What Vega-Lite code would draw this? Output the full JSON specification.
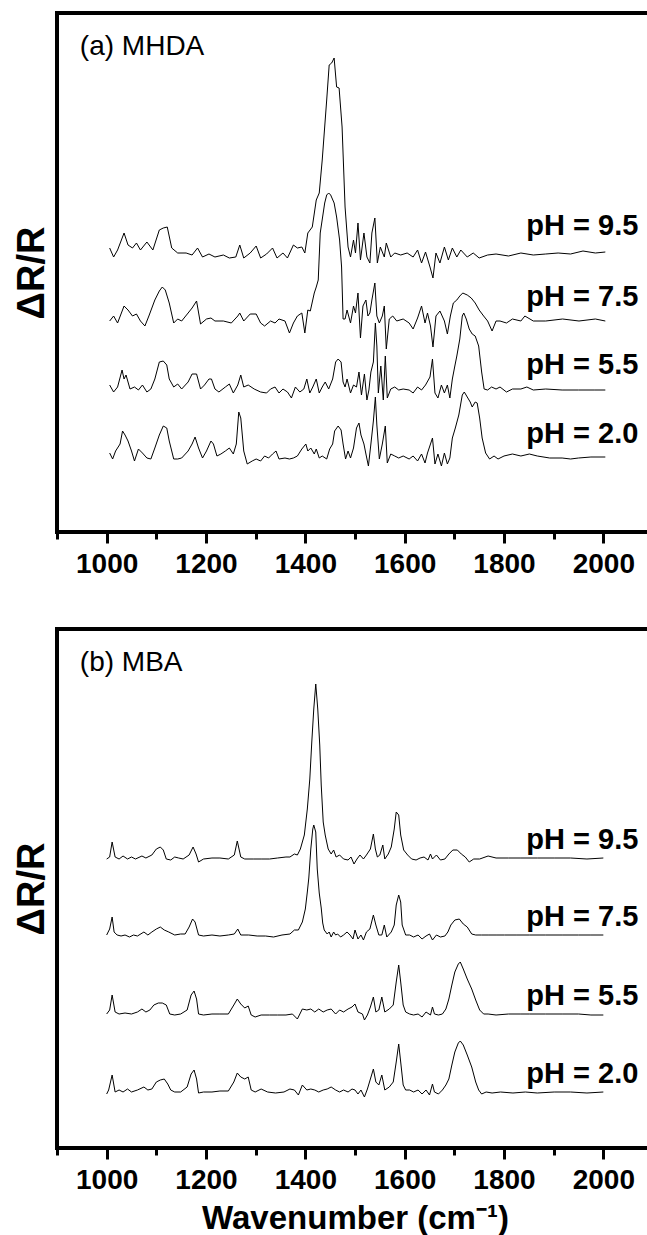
{
  "$schema": "https://vega.github.io/schema/vega-lite/v6.json",
  "padding": {"left": 11, "top": 11, "right": 0, "bottom": 0},
  "background": "white",
  "spacing": 47,
  "config": {
    "view": {"stroke": "black", "strokeWidth": 4},
    "font": "Liberation Sans",
    "axisX": {
      "values": [1000, 1100, 1200, 1300, 1400, 1500, 1600, 1700, 1800, 1900, 2000],
      "labelExpr": "datum.value % 200 == 0 ? datum.label : ''",
      "tickSize": {"condition": {"test": "datum.value % 200 == 0", "value": 11}, "value": 7},
      "tickWidth": 3, "tickColor": "black", "domain": false, "grid": false,
      "labelFont": "Liberation Sans", "labelFontSize": 28, "labelFontWeight": "bold", "labelColor": "black",
      "labelPadding": 7, "labelOverlap": false, "labelFlush": false, "format": "d",
      "titleFont": "Liberation Sans", "titleFontSize": 33, "titleFontWeight": "bold", "titleColor": "black", "titlePadding": 8
    },
    "axisY": {
      "ticks": false, "labels": false, "domain": false, "grid": false,
      "titleFont": "Liberation Sans", "titleFontSize": 38, "titleFontWeight": "bold", "titleColor": "black", "titlePadding": 6
    }
  },
  "datasets": {
    "a": [
      {"s":"9.5","x":1006,"y":284},{"s":"9.5","x":1014,"y":275},{"s":"9.5","x":1022,"y":282},{"s":"9.5","x":1035,"y":299},{"s":"9.5","x":1043,"y":287},{"s":"9.5","x":1052,"y":284},{"s":"9.5","x":1060,"y":289},{"s":"9.5","x":1068,"y":282},{"s":"9.5","x":1081,"y":290},{"s":"9.5","x":1093,"y":282},{"s":"9.5","x":1106,"y":302},{"s":"9.5","x":1114,"y":304},{"s":"9.5","x":1122,"y":305},{"s":"9.5","x":1131,"y":284},{"s":"9.5","x":1143,"y":279},{"s":"9.5","x":1160,"y":279},{"s":"9.5","x":1172,"y":277},{"s":"9.5","x":1183,"y":284},{"s":"9.5","x":1193,"y":275},{"s":"9.5","x":1206,"y":278},{"s":"9.5","x":1218,"y":275},{"s":"9.5","x":1235,"y":277},{"s":"9.5","x":1247,"y":274},{"s":"9.5","x":1260,"y":275},{"s":"9.5","x":1268,"y":287},{"s":"9.5","x":1276,"y":274},{"s":"9.5","x":1289,"y":279},{"s":"9.5","x":1301,"y":286},{"s":"9.5","x":1310,"y":274},{"s":"9.5","x":1322,"y":278},{"s":"9.5","x":1334,"y":284},{"s":"9.5","x":1343,"y":274},{"s":"9.5","x":1355,"y":279},{"s":"9.5","x":1364,"y":274},{"s":"9.5","x":1376,"y":287},{"s":"9.5","x":1384,"y":284},{"s":"9.5","x":1393,"y":285},{"s":"9.5","x":1399,"y":279},{"s":"9.5","x":1405,"y":299},{"s":"9.5","x":1414,"y":305},{"s":"9.5","x":1422,"y":332},{"s":"9.5","x":1428,"y":339},{"s":"9.5","x":1434,"y":372},{"s":"9.5","x":1443,"y":432},{"s":"9.5","x":1448,"y":467},{"s":"9.5","x":1453,"y":469},{"s":"9.5","x":1458,"y":474},{"s":"9.5","x":1463,"y":445},{"s":"9.5","x":1468,"y":444},{"s":"9.5","x":1474,"y":405},{"s":"9.5","x":1480,"y":325},{"s":"9.5","x":1486,"y":285},{"s":"9.5","x":1491,"y":275},{"s":"9.5","x":1497,"y":292},{"s":"9.5","x":1501,"y":279},{"s":"9.5","x":1506,"y":309},{"s":"9.5","x":1511,"y":272},{"s":"9.5","x":1518,"y":299},{"s":"9.5","x":1524,"y":275},{"s":"9.5","x":1530,"y":269},{"s":"9.5","x":1534,"y":299},{"s":"9.5","x":1540,"y":314},{"s":"9.5","x":1545,"y":269},{"s":"9.5","x":1551,"y":285},{"s":"9.5","x":1559,"y":275},{"s":"9.5","x":1563,"y":289},{"s":"9.5","x":1572,"y":275},{"s":"9.5","x":1580,"y":279},{"s":"9.5","x":1592,"y":277},{"s":"9.5","x":1605,"y":279},{"s":"9.5","x":1617,"y":275},{"s":"9.5","x":1626,"y":282},{"s":"9.5","x":1634,"y":269},{"s":"9.5","x":1642,"y":280},{"s":"9.5","x":1651,"y":265},{"s":"9.5","x":1657,"y":254},{"s":"9.5","x":1663,"y":279},{"s":"9.5","x":1671,"y":269},{"s":"9.5","x":1680,"y":285},{"s":"9.5","x":1688,"y":272},{"s":"9.5","x":1696,"y":284},{"s":"9.5","x":1705,"y":275},{"s":"9.5","x":1713,"y":282},{"s":"9.5","x":1726,"y":275},{"s":"9.5","x":1738,"y":279},{"s":"9.5","x":1750,"y":274},{"s":"9.5","x":1767,"y":277},{"s":"9.5","x":1784,"y":278},{"s":"9.5","x":1809,"y":276},{"s":"9.5","x":1834,"y":279},{"s":"9.5","x":1859,"y":277},{"s":"9.5","x":1884,"y":278},{"s":"9.5","x":1909,"y":279},{"s":"9.5","x":1934,"y":278},{"s":"9.5","x":1959,"y":281},{"s":"9.5","x":1984,"y":279},{"s":"9.5","x":2004,"y":280},
      {"s":"7.5","x":1006,"y":211},{"s":"7.5","x":1014,"y":216},{"s":"7.5","x":1022,"y":209},{"s":"7.5","x":1035,"y":226},{"s":"7.5","x":1043,"y":222},{"s":"7.5","x":1052,"y":216},{"s":"7.5","x":1060,"y":218},{"s":"7.5","x":1068,"y":211},{"s":"7.5","x":1077,"y":206},{"s":"7.5","x":1085,"y":216},{"s":"7.5","x":1097,"y":232},{"s":"7.5","x":1106,"y":241},{"s":"7.5","x":1112,"y":245},{"s":"7.5","x":1118,"y":242},{"s":"7.5","x":1126,"y":229},{"s":"7.5","x":1135,"y":209},{"s":"7.5","x":1143,"y":213},{"s":"7.5","x":1151,"y":211},{"s":"7.5","x":1164,"y":219},{"s":"7.5","x":1172,"y":224},{"s":"7.5","x":1181,"y":231},{"s":"7.5","x":1189,"y":208},{"s":"7.5","x":1201,"y":213},{"s":"7.5","x":1210,"y":214},{"s":"7.5","x":1218,"y":211},{"s":"7.5","x":1235,"y":211},{"s":"7.5","x":1251,"y":209},{"s":"7.5","x":1264,"y":216},{"s":"7.5","x":1268,"y":219},{"s":"7.5","x":1276,"y":211},{"s":"7.5","x":1289,"y":218},{"s":"7.5","x":1301,"y":218},{"s":"7.5","x":1310,"y":209},{"s":"7.5","x":1318,"y":206},{"s":"7.5","x":1330,"y":211},{"s":"7.5","x":1339,"y":209},{"s":"7.5","x":1347,"y":213},{"s":"7.5","x":1359,"y":211},{"s":"7.5","x":1368,"y":199},{"s":"7.5","x":1376,"y":209},{"s":"7.5","x":1384,"y":216},{"s":"7.5","x":1393,"y":219},{"s":"7.5","x":1399,"y":199},{"s":"7.5","x":1405,"y":222},{"s":"7.5","x":1410,"y":221},{"s":"7.5","x":1418,"y":239},{"s":"7.5","x":1422,"y":245},{"s":"7.5","x":1426,"y":252},{"s":"7.5","x":1430,"y":299},{"s":"7.5","x":1439,"y":329},{"s":"7.5","x":1443,"y":337},{"s":"7.5","x":1447,"y":339},{"s":"7.5","x":1451,"y":337},{"s":"7.5","x":1458,"y":329},{"s":"7.5","x":1463,"y":315},{"s":"7.5","x":1469,"y":292},{"s":"7.5","x":1473,"y":265},{"s":"7.5","x":1476,"y":213},{"s":"7.5","x":1480,"y":213},{"s":"7.5","x":1484,"y":222},{"s":"7.5","x":1491,"y":209},{"s":"7.5","x":1497,"y":226},{"s":"7.5","x":1501,"y":219},{"s":"7.5","x":1506,"y":239},{"s":"7.5","x":1511,"y":194},{"s":"7.5","x":1516,"y":226},{"s":"7.5","x":1522,"y":232},{"s":"7.5","x":1526,"y":216},{"s":"7.5","x":1530,"y":219},{"s":"7.5","x":1534,"y":232},{"s":"7.5","x":1540,"y":249},{"s":"7.5","x":1544,"y":216},{"s":"7.5","x":1549,"y":209},{"s":"7.5","x":1555,"y":216},{"s":"7.5","x":1559,"y":226},{"s":"7.5","x":1563,"y":183},{"s":"7.5","x":1569,"y":213},{"s":"7.5","x":1576,"y":216},{"s":"7.5","x":1584,"y":211},{"s":"7.5","x":1597,"y":213},{"s":"7.5","x":1609,"y":209},{"s":"7.5","x":1617,"y":203},{"s":"7.5","x":1626,"y":214},{"s":"7.5","x":1634,"y":226},{"s":"7.5","x":1641,"y":209},{"s":"7.5","x":1646,"y":219},{"s":"7.5","x":1652,"y":206},{"s":"7.5","x":1657,"y":185},{"s":"7.5","x":1663,"y":216},{"s":"7.5","x":1671,"y":221},{"s":"7.5","x":1680,"y":211},{"s":"7.5","x":1686,"y":198},{"s":"7.5","x":1692,"y":216},{"s":"7.5","x":1698,"y":229},{"s":"7.5","x":1705,"y":232},{"s":"7.5","x":1711,"y":236},{"s":"7.5","x":1717,"y":239},{"s":"7.5","x":1726,"y":237},{"s":"7.5","x":1734,"y":234},{"s":"7.5","x":1742,"y":229},{"s":"7.5","x":1750,"y":222},{"s":"7.5","x":1759,"y":216},{"s":"7.5","x":1767,"y":211},{"s":"7.5","x":1776,"y":201},{"s":"7.5","x":1784,"y":211},{"s":"7.5","x":1792,"y":211},{"s":"7.5","x":1805,"y":209},{"s":"7.5","x":1817,"y":213},{"s":"7.5","x":1834,"y":211},{"s":"7.5","x":1842,"y":216},{"s":"7.5","x":1859,"y":211},{"s":"7.5","x":1884,"y":211},{"s":"7.5","x":1918,"y":213},{"s":"7.5","x":1951,"y":211},{"s":"7.5","x":1984,"y":213},{"s":"7.5","x":2004,"y":211},
      {"s":"5.5","x":1006,"y":147},{"s":"5.5","x":1014,"y":140},{"s":"5.5","x":1022,"y":145},{"s":"5.5","x":1031,"y":162},{"s":"5.5","x":1035,"y":153},{"s":"5.5","x":1039,"y":157},{"s":"5.5","x":1047,"y":143},{"s":"5.5","x":1056,"y":145},{"s":"5.5","x":1064,"y":142},{"s":"5.5","x":1072,"y":147},{"s":"5.5","x":1081,"y":140},{"s":"5.5","x":1089,"y":143},{"s":"5.5","x":1097,"y":153},{"s":"5.5","x":1106,"y":170},{"s":"5.5","x":1114,"y":171},{"s":"5.5","x":1121,"y":167},{"s":"5.5","x":1126,"y":153},{"s":"5.5","x":1135,"y":145},{"s":"5.5","x":1143,"y":148},{"s":"5.5","x":1151,"y":143},{"s":"5.5","x":1164,"y":150},{"s":"5.5","x":1172,"y":158},{"s":"5.5","x":1181,"y":158},{"s":"5.5","x":1189,"y":143},{"s":"5.5","x":1197,"y":147},{"s":"5.5","x":1206,"y":153},{"s":"5.5","x":1211,"y":153},{"s":"5.5","x":1218,"y":143},{"s":"5.5","x":1226,"y":140},{"s":"5.5","x":1239,"y":145},{"s":"5.5","x":1247,"y":148},{"s":"5.5","x":1255,"y":139},{"s":"5.5","x":1264,"y":147},{"s":"5.5","x":1270,"y":157},{"s":"5.5","x":1276,"y":145},{"s":"5.5","x":1285,"y":147},{"s":"5.5","x":1297,"y":143},{"s":"5.5","x":1310,"y":140},{"s":"5.5","x":1322,"y":139},{"s":"5.5","x":1330,"y":143},{"s":"5.5","x":1339,"y":145},{"s":"5.5","x":1347,"y":139},{"s":"5.5","x":1355,"y":143},{"s":"5.5","x":1364,"y":140},{"s":"5.5","x":1372,"y":134},{"s":"5.5","x":1380,"y":145},{"s":"5.5","x":1389,"y":140},{"s":"5.5","x":1397,"y":143},{"s":"5.5","x":1403,"y":153},{"s":"5.5","x":1409,"y":139},{"s":"5.5","x":1415,"y":145},{"s":"5.5","x":1422,"y":153},{"s":"5.5","x":1428,"y":139},{"s":"5.5","x":1434,"y":145},{"s":"5.5","x":1440,"y":150},{"s":"5.5","x":1447,"y":143},{"s":"5.5","x":1455,"y":153},{"s":"5.5","x":1461,"y":170},{"s":"5.5","x":1466,"y":173},{"s":"5.5","x":1472,"y":170},{"s":"5.5","x":1476,"y":150},{"s":"5.5","x":1480,"y":145},{"s":"5.5","x":1484,"y":153},{"s":"5.5","x":1491,"y":139},{"s":"5.5","x":1497,"y":147},{"s":"5.5","x":1503,"y":145},{"s":"5.5","x":1508,"y":160},{"s":"5.5","x":1513,"y":137},{"s":"5.5","x":1519,"y":158},{"s":"5.5","x":1524,"y":132},{"s":"5.5","x":1528,"y":142},{"s":"5.5","x":1532,"y":160},{"s":"5.5","x":1537,"y":170},{"s":"5.5","x":1541,"y":209},{"s":"5.5","x":1544,"y":186},{"s":"5.5","x":1547,"y":139},{"s":"5.5","x":1552,"y":166},{"s":"5.5","x":1557,"y":132},{"s":"5.5","x":1561,"y":176},{"s":"5.5","x":1565,"y":134},{"s":"5.5","x":1572,"y":143},{"s":"5.5","x":1580,"y":145},{"s":"5.5","x":1588,"y":142},{"s":"5.5","x":1597,"y":143},{"s":"5.5","x":1609,"y":142},{"s":"5.5","x":1617,"y":139},{"s":"5.5","x":1626,"y":145},{"s":"5.5","x":1634,"y":142},{"s":"5.5","x":1642,"y":147},{"s":"5.5","x":1651,"y":155},{"s":"5.5","x":1656,"y":173},{"s":"5.5","x":1661,"y":139},{"s":"5.5","x":1667,"y":134},{"s":"5.5","x":1674,"y":147},{"s":"5.5","x":1680,"y":139},{"s":"5.5","x":1686,"y":147},{"s":"5.5","x":1691,"y":134},{"s":"5.5","x":1696,"y":153},{"s":"5.5","x":1701,"y":166},{"s":"5.5","x":1705,"y":176},{"s":"5.5","x":1711,"y":193},{"s":"5.5","x":1716,"y":216},{"s":"5.5","x":1719,"y":219},{"s":"5.5","x":1724,"y":213},{"s":"5.5","x":1730,"y":203},{"s":"5.5","x":1736,"y":198},{"s":"5.5","x":1742,"y":196},{"s":"5.5","x":1749,"y":186},{"s":"5.5","x":1755,"y":160},{"s":"5.5","x":1760,"y":143},{"s":"5.5","x":1767,"y":142},{"s":"5.5","x":1775,"y":145},{"s":"5.5","x":1784,"y":143},{"s":"5.5","x":1792,"y":145},{"s":"5.5","x":1805,"y":140},{"s":"5.5","x":1817,"y":143},{"s":"5.5","x":1834,"y":143},{"s":"5.5","x":1846,"y":145},{"s":"5.5","x":1859,"y":142},{"s":"5.5","x":1884,"y":143},{"s":"5.5","x":1917,"y":142},{"s":"5.5","x":1950,"y":142},{"s":"5.5","x":1983,"y":142},{"s":"5.5","x":2004,"y":142},
      {"s":"2.0","x":1006,"y":79},{"s":"2.0","x":1012,"y":73},{"s":"2.0","x":1018,"y":81},{"s":"2.0","x":1027,"y":88},{"s":"2.0","x":1032,"y":101},{"s":"2.0","x":1037,"y":97},{"s":"2.0","x":1043,"y":91},{"s":"2.0","x":1050,"y":81},{"s":"2.0","x":1056,"y":71},{"s":"2.0","x":1064,"y":83},{"s":"2.0","x":1072,"y":79},{"s":"2.0","x":1081,"y":74},{"s":"2.0","x":1089,"y":73},{"s":"2.0","x":1097,"y":84},{"s":"2.0","x":1106,"y":97},{"s":"2.0","x":1114,"y":106},{"s":"2.0","x":1121,"y":104},{"s":"2.0","x":1126,"y":91},{"s":"2.0","x":1135,"y":73},{"s":"2.0","x":1143,"y":73},{"s":"2.0","x":1151,"y":74},{"s":"2.0","x":1164,"y":81},{"s":"2.0","x":1172,"y":88},{"s":"2.0","x":1178,"y":95},{"s":"2.0","x":1185,"y":84},{"s":"2.0","x":1193,"y":74},{"s":"2.0","x":1201,"y":81},{"s":"2.0","x":1210,"y":91},{"s":"2.0","x":1215,"y":88},{"s":"2.0","x":1222,"y":76},{"s":"2.0","x":1230,"y":78},{"s":"2.0","x":1239,"y":81},{"s":"2.0","x":1247,"y":84},{"s":"2.0","x":1255,"y":78},{"s":"2.0","x":1261,"y":88},{"s":"2.0","x":1266,"y":120},{"s":"2.0","x":1270,"y":114},{"s":"2.0","x":1276,"y":81},{"s":"2.0","x":1283,"y":68},{"s":"2.0","x":1293,"y":71},{"s":"2.0","x":1301,"y":73},{"s":"2.0","x":1310,"y":71},{"s":"2.0","x":1318,"y":76},{"s":"2.0","x":1326,"y":74},{"s":"2.0","x":1334,"y":78},{"s":"2.0","x":1341,"y":81},{"s":"2.0","x":1347,"y":73},{"s":"2.0","x":1359,"y":74},{"s":"2.0","x":1368,"y":73},{"s":"2.0","x":1376,"y":74},{"s":"2.0","x":1384,"y":76},{"s":"2.0","x":1393,"y":83},{"s":"2.0","x":1401,"y":88},{"s":"2.0","x":1405,"y":81},{"s":"2.0","x":1411,"y":84},{"s":"2.0","x":1418,"y":78},{"s":"2.0","x":1422,"y":83},{"s":"2.0","x":1428,"y":74},{"s":"2.0","x":1434,"y":76},{"s":"2.0","x":1443,"y":73},{"s":"2.0","x":1449,"y":83},{"s":"2.0","x":1455,"y":88},{"s":"2.0","x":1459,"y":101},{"s":"2.0","x":1466,"y":106},{"s":"2.0","x":1472,"y":102},{"s":"2.0","x":1476,"y":88},{"s":"2.0","x":1481,"y":73},{"s":"2.0","x":1486,"y":81},{"s":"2.0","x":1491,"y":74},{"s":"2.0","x":1497,"y":84},{"s":"2.0","x":1503,"y":104},{"s":"2.0","x":1508,"y":109},{"s":"2.0","x":1512,"y":97},{"s":"2.0","x":1518,"y":88},{"s":"2.0","x":1522,"y":78},{"s":"2.0","x":1527,"y":66},{"s":"2.0","x":1532,"y":88},{"s":"2.0","x":1537,"y":111},{"s":"2.0","x":1541,"y":135},{"s":"2.0","x":1544,"y":107},{"s":"2.0","x":1549,"y":73},{"s":"2.0","x":1555,"y":88},{"s":"2.0","x":1561,"y":106},{"s":"2.0","x":1565,"y":69},{"s":"2.0","x":1572,"y":78},{"s":"2.0","x":1580,"y":76},{"s":"2.0","x":1588,"y":74},{"s":"2.0","x":1597,"y":76},{"s":"2.0","x":1609,"y":73},{"s":"2.0","x":1617,"y":76},{"s":"2.0","x":1626,"y":71},{"s":"2.0","x":1634,"y":78},{"s":"2.0","x":1641,"y":69},{"s":"2.0","x":1646,"y":79},{"s":"2.0","x":1652,"y":88},{"s":"2.0","x":1656,"y":94},{"s":"2.0","x":1661,"y":68},{"s":"2.0","x":1667,"y":78},{"s":"2.0","x":1674,"y":66},{"s":"2.0","x":1680,"y":79},{"s":"2.0","x":1686,"y":68},{"s":"2.0","x":1691,"y":74},{"s":"2.0","x":1696,"y":94},{"s":"2.0","x":1702,"y":104},{"s":"2.0","x":1709,"y":117},{"s":"2.0","x":1716,"y":137},{"s":"2.0","x":1720,"y":140},{"s":"2.0","x":1726,"y":135},{"s":"2.0","x":1732,"y":130},{"s":"2.0","x":1736,"y":125},{"s":"2.0","x":1742,"y":130},{"s":"2.0","x":1746,"y":129},{"s":"2.0","x":1751,"y":114},{"s":"2.0","x":1756,"y":94},{"s":"2.0","x":1763,"y":79},{"s":"2.0","x":1771,"y":73},{"s":"2.0","x":1780,"y":76},{"s":"2.0","x":1788,"y":73},{"s":"2.0","x":1800,"y":76},{"s":"2.0","x":1817,"y":78},{"s":"2.0","x":1834,"y":76},{"s":"2.0","x":1851,"y":78},{"s":"2.0","x":1867,"y":76},{"s":"2.0","x":1892,"y":74},{"s":"2.0","x":1917,"y":74},{"s":"2.0","x":1934,"y":73},{"s":"2.0","x":1950,"y":74},{"s":"2.0","x":1975,"y":75},{"s":"2.0","x":2004,"y":75}
    ],
    "b": [
      {"s":"9.5","x":1000,"y":289},{"s":"9.5","x":1006,"y":291},{"s":"9.5","x":1011,"y":306},{"s":"9.5","x":1017,"y":291},{"s":"9.5","x":1025,"y":289},{"s":"9.5","x":1033,"y":292},{"s":"9.5","x":1042,"y":289},{"s":"9.5","x":1050,"y":291},{"s":"9.5","x":1058,"y":289},{"s":"9.5","x":1071,"y":292},{"s":"9.5","x":1079,"y":290},{"s":"9.5","x":1091,"y":293},{"s":"9.5","x":1100,"y":299},{"s":"9.5","x":1108,"y":301},{"s":"9.5","x":1114,"y":298},{"s":"9.5","x":1120,"y":289},{"s":"9.5","x":1129,"y":288},{"s":"9.5","x":1137,"y":291},{"s":"9.5","x":1145,"y":290},{"s":"9.5","x":1154,"y":289},{"s":"9.5","x":1166,"y":293},{"s":"9.5","x":1174,"y":301},{"s":"9.5","x":1180,"y":294},{"s":"9.5","x":1185,"y":286},{"s":"9.5","x":1195,"y":289},{"s":"9.5","x":1212,"y":290},{"s":"9.5","x":1228,"y":290},{"s":"9.5","x":1245,"y":289},{"s":"9.5","x":1257,"y":293},{"s":"9.5","x":1263,"y":307},{"s":"9.5","x":1270,"y":291},{"s":"9.5","x":1278,"y":289},{"s":"9.5","x":1295,"y":289},{"s":"9.5","x":1311,"y":289},{"s":"9.5","x":1328,"y":289},{"s":"9.5","x":1344,"y":290},{"s":"9.5","x":1361,"y":291},{"s":"9.5","x":1369,"y":291},{"s":"9.5","x":1378,"y":294},{"s":"9.5","x":1384,"y":293},{"s":"9.5","x":1390,"y":299},{"s":"9.5","x":1398,"y":313},{"s":"9.5","x":1404,"y":339},{"s":"9.5","x":1409,"y":369},{"s":"9.5","x":1413,"y":406},{"s":"9.5","x":1417,"y":439},{"s":"9.5","x":1421,"y":464},{"s":"9.5","x":1425,"y":439},{"s":"9.5","x":1429,"y":403},{"s":"9.5","x":1432,"y":363},{"s":"9.5","x":1436,"y":326},{"s":"9.5","x":1440,"y":313},{"s":"9.5","x":1446,"y":299},{"s":"9.5","x":1452,"y":294},{"s":"9.5","x":1457,"y":298},{"s":"9.5","x":1462,"y":291},{"s":"9.5","x":1469,"y":293},{"s":"9.5","x":1477,"y":289},{"s":"9.5","x":1486,"y":288},{"s":"9.5","x":1492,"y":291},{"s":"9.5","x":1498,"y":284},{"s":"9.5","x":1504,"y":289},{"s":"9.5","x":1510,"y":293},{"s":"9.5","x":1517,"y":289},{"s":"9.5","x":1523,"y":293},{"s":"9.5","x":1531,"y":299},{"s":"9.5","x":1537,"y":314},{"s":"9.5","x":1541,"y":299},{"s":"9.5","x":1545,"y":291},{"s":"9.5","x":1550,"y":293},{"s":"9.5","x":1556,"y":303},{"s":"9.5","x":1560,"y":289},{"s":"9.5","x":1567,"y":294},{"s":"9.5","x":1573,"y":301},{"s":"9.5","x":1579,"y":319},{"s":"9.5","x":1583,"y":336},{"s":"9.5","x":1588,"y":333},{"s":"9.5","x":1592,"y":313},{"s":"9.5","x":1598,"y":298},{"s":"9.5","x":1606,"y":293},{"s":"9.5","x":1614,"y":289},{"s":"9.5","x":1623,"y":288},{"s":"9.5","x":1631,"y":290},{"s":"9.5","x":1639,"y":291},{"s":"9.5","x":1647,"y":288},{"s":"9.5","x":1652,"y":294},{"s":"9.5","x":1656,"y":289},{"s":"9.5","x":1664,"y":293},{"s":"9.5","x":1672,"y":288},{"s":"9.5","x":1681,"y":289},{"s":"9.5","x":1689,"y":294},{"s":"9.5","x":1697,"y":298},{"s":"9.5","x":1706,"y":298},{"s":"9.5","x":1714,"y":294},{"s":"9.5","x":1722,"y":291},{"s":"9.5","x":1730,"y":286},{"s":"9.5","x":1739,"y":289},{"s":"9.5","x":1751,"y":289},{"s":"9.5","x":1768,"y":292},{"s":"9.5","x":1784,"y":290},{"s":"9.5","x":1809,"y":290},{"s":"9.5","x":1834,"y":290},{"s":"9.5","x":1867,"y":290},{"s":"9.5","x":1901,"y":290},{"s":"9.5","x":1934,"y":290},{"s":"9.5","x":1967,"y":289},{"s":"9.5","x":2000,"y":290},
      {"s":"7.5","x":1000,"y":213},{"s":"7.5","x":1006,"y":219},{"s":"7.5","x":1011,"y":231},{"s":"7.5","x":1015,"y":216},{"s":"7.5","x":1021,"y":213},{"s":"7.5","x":1029,"y":212},{"s":"7.5","x":1037,"y":213},{"s":"7.5","x":1046,"y":211},{"s":"7.5","x":1054,"y":213},{"s":"7.5","x":1062,"y":212},{"s":"7.5","x":1075,"y":216},{"s":"7.5","x":1083,"y":213},{"s":"7.5","x":1091,"y":216},{"s":"7.5","x":1100,"y":219},{"s":"7.5","x":1108,"y":221},{"s":"7.5","x":1116,"y":218},{"s":"7.5","x":1125,"y":216},{"s":"7.5","x":1137,"y":213},{"s":"7.5","x":1149,"y":214},{"s":"7.5","x":1158,"y":214},{"s":"7.5","x":1166,"y":221},{"s":"7.5","x":1173,"y":229},{"s":"7.5","x":1178,"y":226},{"s":"7.5","x":1185,"y":213},{"s":"7.5","x":1195,"y":212},{"s":"7.5","x":1212,"y":213},{"s":"7.5","x":1228,"y":212},{"s":"7.5","x":1245,"y":213},{"s":"7.5","x":1257,"y":214},{"s":"7.5","x":1264,"y":219},{"s":"7.5","x":1270,"y":213},{"s":"7.5","x":1286,"y":213},{"s":"7.5","x":1303,"y":212},{"s":"7.5","x":1320,"y":212},{"s":"7.5","x":1336,"y":211},{"s":"7.5","x":1353,"y":213},{"s":"7.5","x":1369,"y":214},{"s":"7.5","x":1378,"y":218},{"s":"7.5","x":1386,"y":218},{"s":"7.5","x":1394,"y":226},{"s":"7.5","x":1400,"y":239},{"s":"7.5","x":1404,"y":256},{"s":"7.5","x":1407,"y":270},{"s":"7.5","x":1411,"y":299},{"s":"7.5","x":1415,"y":319},{"s":"7.5","x":1417,"y":323},{"s":"7.5","x":1421,"y":316},{"s":"7.5","x":1424,"y":279},{"s":"7.5","x":1428,"y":255},{"s":"7.5","x":1432,"y":240},{"s":"7.5","x":1435,"y":225},{"s":"7.5","x":1438,"y":218},{"s":"7.5","x":1444,"y":214},{"s":"7.5","x":1448,"y":216},{"s":"7.5","x":1452,"y":211},{"s":"7.5","x":1457,"y":216},{"s":"7.5","x":1461,"y":213},{"s":"7.5","x":1465,"y":214},{"s":"7.5","x":1471,"y":211},{"s":"7.5","x":1477,"y":213},{"s":"7.5","x":1484,"y":216},{"s":"7.5","x":1490,"y":213},{"s":"7.5","x":1496,"y":209},{"s":"7.5","x":1500,"y":218},{"s":"7.5","x":1506,"y":209},{"s":"7.5","x":1512,"y":213},{"s":"7.5","x":1517,"y":208},{"s":"7.5","x":1523,"y":216},{"s":"7.5","x":1530,"y":219},{"s":"7.5","x":1537,"y":233},{"s":"7.5","x":1542,"y":223},{"s":"7.5","x":1548,"y":213},{"s":"7.5","x":1554,"y":213},{"s":"7.5","x":1559,"y":223},{"s":"7.5","x":1564,"y":211},{"s":"7.5","x":1573,"y":216},{"s":"7.5","x":1579,"y":223},{"s":"7.5","x":1583,"y":243},{"s":"7.5","x":1588,"y":253},{"s":"7.5","x":1592,"y":246},{"s":"7.5","x":1595,"y":223},{"s":"7.5","x":1602,"y":213},{"s":"7.5","x":1610,"y":213},{"s":"7.5","x":1618,"y":211},{"s":"7.5","x":1627,"y":213},{"s":"7.5","x":1635,"y":209},{"s":"7.5","x":1643,"y":212},{"s":"7.5","x":1650,"y":214},{"s":"7.5","x":1656,"y":208},{"s":"7.5","x":1664,"y":213},{"s":"7.5","x":1672,"y":211},{"s":"7.5","x":1681,"y":212},{"s":"7.5","x":1687,"y":216},{"s":"7.5","x":1693,"y":223},{"s":"7.5","x":1701,"y":228},{"s":"7.5","x":1710,"y":229},{"s":"7.5","x":1718,"y":224},{"s":"7.5","x":1726,"y":221},{"s":"7.5","x":1735,"y":214},{"s":"7.5","x":1743,"y":213},{"s":"7.5","x":1755,"y":213},{"s":"7.5","x":1768,"y":213},{"s":"7.5","x":1784,"y":213},{"s":"7.5","x":1801,"y":213},{"s":"7.5","x":1826,"y":213},{"s":"7.5","x":1851,"y":213},{"s":"7.5","x":1884,"y":213},{"s":"7.5","x":1917,"y":213},{"s":"7.5","x":1950,"y":213},{"s":"7.5","x":1975,"y":213},{"s":"7.5","x":2000,"y":213},
      {"s":"5.5","x":1000,"y":134},{"s":"5.5","x":1006,"y":138},{"s":"5.5","x":1011,"y":153},{"s":"5.5","x":1017,"y":136},{"s":"5.5","x":1025,"y":134},{"s":"5.5","x":1037,"y":135},{"s":"5.5","x":1050,"y":134},{"s":"5.5","x":1062,"y":136},{"s":"5.5","x":1071,"y":139},{"s":"5.5","x":1079,"y":136},{"s":"5.5","x":1087,"y":138},{"s":"5.5","x":1095,"y":143},{"s":"5.5","x":1104,"y":145},{"s":"5.5","x":1112,"y":145},{"s":"5.5","x":1120,"y":143},{"s":"5.5","x":1127,"y":134},{"s":"5.5","x":1137,"y":133},{"s":"5.5","x":1149,"y":134},{"s":"5.5","x":1162,"y":138},{"s":"5.5","x":1170,"y":153},{"s":"5.5","x":1176,"y":157},{"s":"5.5","x":1181,"y":149},{"s":"5.5","x":1185,"y":134},{"s":"5.5","x":1195,"y":133},{"s":"5.5","x":1212,"y":134},{"s":"5.5","x":1228,"y":134},{"s":"5.5","x":1245,"y":134},{"s":"5.5","x":1256,"y":143},{"s":"5.5","x":1263,"y":149},{"s":"5.5","x":1270,"y":144},{"s":"5.5","x":1278,"y":140},{"s":"5.5","x":1285,"y":142},{"s":"5.5","x":1291,"y":133},{"s":"5.5","x":1299,"y":131},{"s":"5.5","x":1311,"y":133},{"s":"5.5","x":1328,"y":133},{"s":"5.5","x":1344,"y":133},{"s":"5.5","x":1361,"y":133},{"s":"5.5","x":1374,"y":134},{"s":"5.5","x":1384,"y":129},{"s":"5.5","x":1394,"y":139},{"s":"5.5","x":1403,"y":138},{"s":"5.5","x":1411,"y":139},{"s":"5.5","x":1419,"y":136},{"s":"5.5","x":1427,"y":139},{"s":"5.5","x":1436,"y":136},{"s":"5.5","x":1444,"y":138},{"s":"5.5","x":1452,"y":139},{"s":"5.5","x":1461,"y":134},{"s":"5.5","x":1469,"y":138},{"s":"5.5","x":1477,"y":136},{"s":"5.5","x":1486,"y":139},{"s":"5.5","x":1494,"y":141},{"s":"5.5","x":1500,"y":144},{"s":"5.5","x":1506,"y":136},{"s":"5.5","x":1515,"y":134},{"s":"5.5","x":1519,"y":128},{"s":"5.5","x":1525,"y":133},{"s":"5.5","x":1531,"y":141},{"s":"5.5","x":1537,"y":151},{"s":"5.5","x":1542,"y":136},{"s":"5.5","x":1548,"y":138},{"s":"5.5","x":1554,"y":151},{"s":"5.5","x":1560,"y":136},{"s":"5.5","x":1569,"y":139},{"s":"5.5","x":1577,"y":143},{"s":"5.5","x":1583,"y":166},{"s":"5.5","x":1588,"y":183},{"s":"5.5","x":1592,"y":166},{"s":"5.5","x":1597,"y":143},{"s":"5.5","x":1602,"y":136},{"s":"5.5","x":1610,"y":134},{"s":"5.5","x":1618,"y":133},{"s":"5.5","x":1627,"y":134},{"s":"5.5","x":1635,"y":131},{"s":"5.5","x":1643,"y":136},{"s":"5.5","x":1652,"y":133},{"s":"5.5","x":1656,"y":141},{"s":"5.5","x":1660,"y":134},{"s":"5.5","x":1668,"y":133},{"s":"5.5","x":1676,"y":134},{"s":"5.5","x":1683,"y":139},{"s":"5.5","x":1689,"y":149},{"s":"5.5","x":1695,"y":163},{"s":"5.5","x":1701,"y":176},{"s":"5.5","x":1708,"y":184},{"s":"5.5","x":1712,"y":186},{"s":"5.5","x":1718,"y":179},{"s":"5.5","x":1726,"y":169},{"s":"5.5","x":1735,"y":159},{"s":"5.5","x":1743,"y":148},{"s":"5.5","x":1751,"y":138},{"s":"5.5","x":1759,"y":134},{"s":"5.5","x":1768,"y":134},{"s":"5.5","x":1784,"y":133},{"s":"5.5","x":1809,"y":134},{"s":"5.5","x":1834,"y":134},{"s":"5.5","x":1851,"y":134},{"s":"5.5","x":1884,"y":134},{"s":"5.5","x":1917,"y":134},{"s":"5.5","x":1950,"y":134},{"s":"5.5","x":1975,"y":133},{"s":"5.5","x":2000,"y":133},
      {"s":"2.0","x":1000,"y":54},{"s":"2.0","x":1004,"y":58},{"s":"2.0","x":1011,"y":73},{"s":"2.0","x":1017,"y":56},{"s":"2.0","x":1025,"y":58},{"s":"2.0","x":1033,"y":56},{"s":"2.0","x":1042,"y":59},{"s":"2.0","x":1050,"y":56},{"s":"2.0","x":1062,"y":58},{"s":"2.0","x":1075,"y":61},{"s":"2.0","x":1083,"y":58},{"s":"2.0","x":1091,"y":59},{"s":"2.0","x":1100,"y":66},{"s":"2.0","x":1108,"y":68},{"s":"2.0","x":1116,"y":69},{"s":"2.0","x":1123,"y":64},{"s":"2.0","x":1129,"y":58},{"s":"2.0","x":1137,"y":56},{"s":"2.0","x":1149,"y":56},{"s":"2.0","x":1162,"y":61},{"s":"2.0","x":1170,"y":74},{"s":"2.0","x":1176,"y":78},{"s":"2.0","x":1181,"y":69},{"s":"2.0","x":1185,"y":55},{"s":"2.0","x":1195,"y":56},{"s":"2.0","x":1212,"y":56},{"s":"2.0","x":1228,"y":57},{"s":"2.0","x":1245,"y":57},{"s":"2.0","x":1256,"y":66},{"s":"2.0","x":1263,"y":75},{"s":"2.0","x":1270,"y":71},{"s":"2.0","x":1278,"y":69},{"s":"2.0","x":1285,"y":71},{"s":"2.0","x":1291,"y":58},{"s":"2.0","x":1299,"y":56},{"s":"2.0","x":1311,"y":59},{"s":"2.0","x":1324,"y":56},{"s":"2.0","x":1340,"y":55},{"s":"2.0","x":1357,"y":56},{"s":"2.0","x":1369,"y":59},{"s":"2.0","x":1378,"y":58},{"s":"2.0","x":1386,"y":53},{"s":"2.0","x":1394,"y":63},{"s":"2.0","x":1403,"y":58},{"s":"2.0","x":1411,"y":59},{"s":"2.0","x":1419,"y":58},{"s":"2.0","x":1427,"y":56},{"s":"2.0","x":1436,"y":58},{"s":"2.0","x":1444,"y":59},{"s":"2.0","x":1452,"y":61},{"s":"2.0","x":1461,"y":58},{"s":"2.0","x":1469,"y":56},{"s":"2.0","x":1477,"y":58},{"s":"2.0","x":1486,"y":56},{"s":"2.0","x":1494,"y":59},{"s":"2.0","x":1500,"y":58},{"s":"2.0","x":1506,"y":54},{"s":"2.0","x":1512,"y":58},{"s":"2.0","x":1519,"y":51},{"s":"2.0","x":1525,"y":59},{"s":"2.0","x":1531,"y":69},{"s":"2.0","x":1537,"y":79},{"s":"2.0","x":1542,"y":66},{"s":"2.0","x":1548,"y":63},{"s":"2.0","x":1554,"y":73},{"s":"2.0","x":1560,"y":58},{"s":"2.0","x":1569,"y":61},{"s":"2.0","x":1577,"y":66},{"s":"2.0","x":1583,"y":86},{"s":"2.0","x":1588,"y":104},{"s":"2.0","x":1592,"y":86},{"s":"2.0","x":1597,"y":63},{"s":"2.0","x":1602,"y":58},{"s":"2.0","x":1610,"y":58},{"s":"2.0","x":1618,"y":56},{"s":"2.0","x":1627,"y":58},{"s":"2.0","x":1635,"y":54},{"s":"2.0","x":1643,"y":58},{"s":"2.0","x":1650,"y":53},{"s":"2.0","x":1656,"y":64},{"s":"2.0","x":1660,"y":56},{"s":"2.0","x":1668,"y":54},{"s":"2.0","x":1676,"y":58},{"s":"2.0","x":1683,"y":63},{"s":"2.0","x":1689,"y":69},{"s":"2.0","x":1695,"y":83},{"s":"2.0","x":1701,"y":96},{"s":"2.0","x":1708,"y":105},{"s":"2.0","x":1712,"y":107},{"s":"2.0","x":1718,"y":103},{"s":"2.0","x":1726,"y":93},{"s":"2.0","x":1735,"y":81},{"s":"2.0","x":1743,"y":66},{"s":"2.0","x":1749,"y":58},{"s":"2.0","x":1755,"y":54},{"s":"2.0","x":1764,"y":56},{"s":"2.0","x":1776,"y":55},{"s":"2.0","x":1793,"y":56},{"s":"2.0","x":1818,"y":55},{"s":"2.0","x":1843,"y":56},{"s":"2.0","x":1867,"y":55},{"s":"2.0","x":1901,"y":56},{"s":"2.0","x":1934,"y":56},{"s":"2.0","x":1967,"y":55},{"s":"2.0","x":2000,"y":56}
    ],
    "la": [
      {"p":"a","k":"ph","t":"pH = 9.5","x":1845,"y":297},
      {"p":"a","k":"ph","t":"pH = 7.5","x":1845,"y":226},
      {"p":"a","k":"ph","t":"pH = 5.5","x":1845,"y":158},
      {"p":"a","k":"ph","t":"pH = 2.0","x":1845,"y":89},
      {"p":"a","k":"hd","t":"(a) MHDA","x":946,"y":499},
      {"p":"b","k":"ph","t":"pH = 9.5","x":1845,"y":299},
      {"p":"b","k":"ph","t":"pH = 7.5","x":1845,"y":222},
      {"p":"b","k":"ph","t":"pH = 5.5","x":1845,"y":143},
      {"p":"b","k":"ph","t":"pH = 2.0","x":1845,"y":65},
      {"p":"b","k":"hd","t":"(b) MBA","x":946,"y":499}
    ]
  },
  "vconcat": [
    {
      "width": 596, "height": 519,
      "layer": [
        {
          "data": {"name": "a"},
          "mark": {"type": "line", "color": "black", "strokeWidth": 1},
          "encoding": {
            "x": {"field": "x", "type": "quantitative", "scale": {"domain": [900, 2100], "nice": false, "zero": false}, "axis": {"title": null}},
            "y": {"field": "y", "type": "quantitative", "scale": {"domain": [0, 519], "nice": false}, "axis": {"title": "ΔR/R"}},
            "detail": {"field": "s"}
          }
        },
        {
          "data": {"name": "la"},
          "transform": [{"filter": "datum.p == 'a' && datum.k == 'ph'"}],
          "mark": {"type": "text", "align": "left", "baseline": "alphabetic", "font": "Liberation Sans", "fontSize": 29, "fontWeight": "bold", "color": "black"},
          "encoding": {
            "x": {"field": "x", "type": "quantitative"},
            "y": {"field": "y", "type": "quantitative"},
            "text": {"field": "t"}
          }
        },
        {
          "data": {"name": "la"},
          "transform": [{"filter": "datum.p == 'a' && datum.k == 'hd'"}],
          "mark": {"type": "text", "align": "left", "baseline": "top", "font": "Liberation Sans", "fontSize": 28, "color": "black"},
          "encoding": {
            "x": {"field": "x", "type": "quantitative"},
            "y": {"field": "y", "type": "quantitative"},
            "text": {"field": "t"}
          }
        }
      ]
    },
    {
      "width": 596, "height": 519,
      "layer": [
        {
          "data": {"name": "b"},
          "mark": {"type": "line", "color": "black", "strokeWidth": 1},
          "encoding": {
            "x": {"field": "x", "type": "quantitative", "scale": {"domain": [900, 2100], "nice": false, "zero": false}, "axis": {"title": "Wavenumber (cm⁻¹)"}},
            "y": {"field": "y", "type": "quantitative", "scale": {"domain": [0, 519], "nice": false}, "axis": {"title": "ΔR/R"}},
            "detail": {"field": "s"}
          }
        },
        {
          "data": {"name": "la"},
          "transform": [{"filter": "datum.p == 'b' && datum.k == 'ph'"}],
          "mark": {"type": "text", "align": "left", "baseline": "alphabetic", "font": "Liberation Sans", "fontSize": 29, "fontWeight": "bold", "color": "black"},
          "encoding": {
            "x": {"field": "x", "type": "quantitative"},
            "y": {"field": "y", "type": "quantitative"},
            "text": {"field": "t"}
          }
        },
        {
          "data": {"name": "la"},
          "transform": [{"filter": "datum.p == 'b' && datum.k == 'hd'"}],
          "mark": {"type": "text", "align": "left", "baseline": "top", "font": "Liberation Sans", "fontSize": 28, "color": "black"},
          "encoding": {
            "x": {"field": "x", "type": "quantitative"},
            "y": {"field": "y", "type": "quantitative"},
            "text": {"field": "t"}
          }
        }
      ]
    }
  ]
}
